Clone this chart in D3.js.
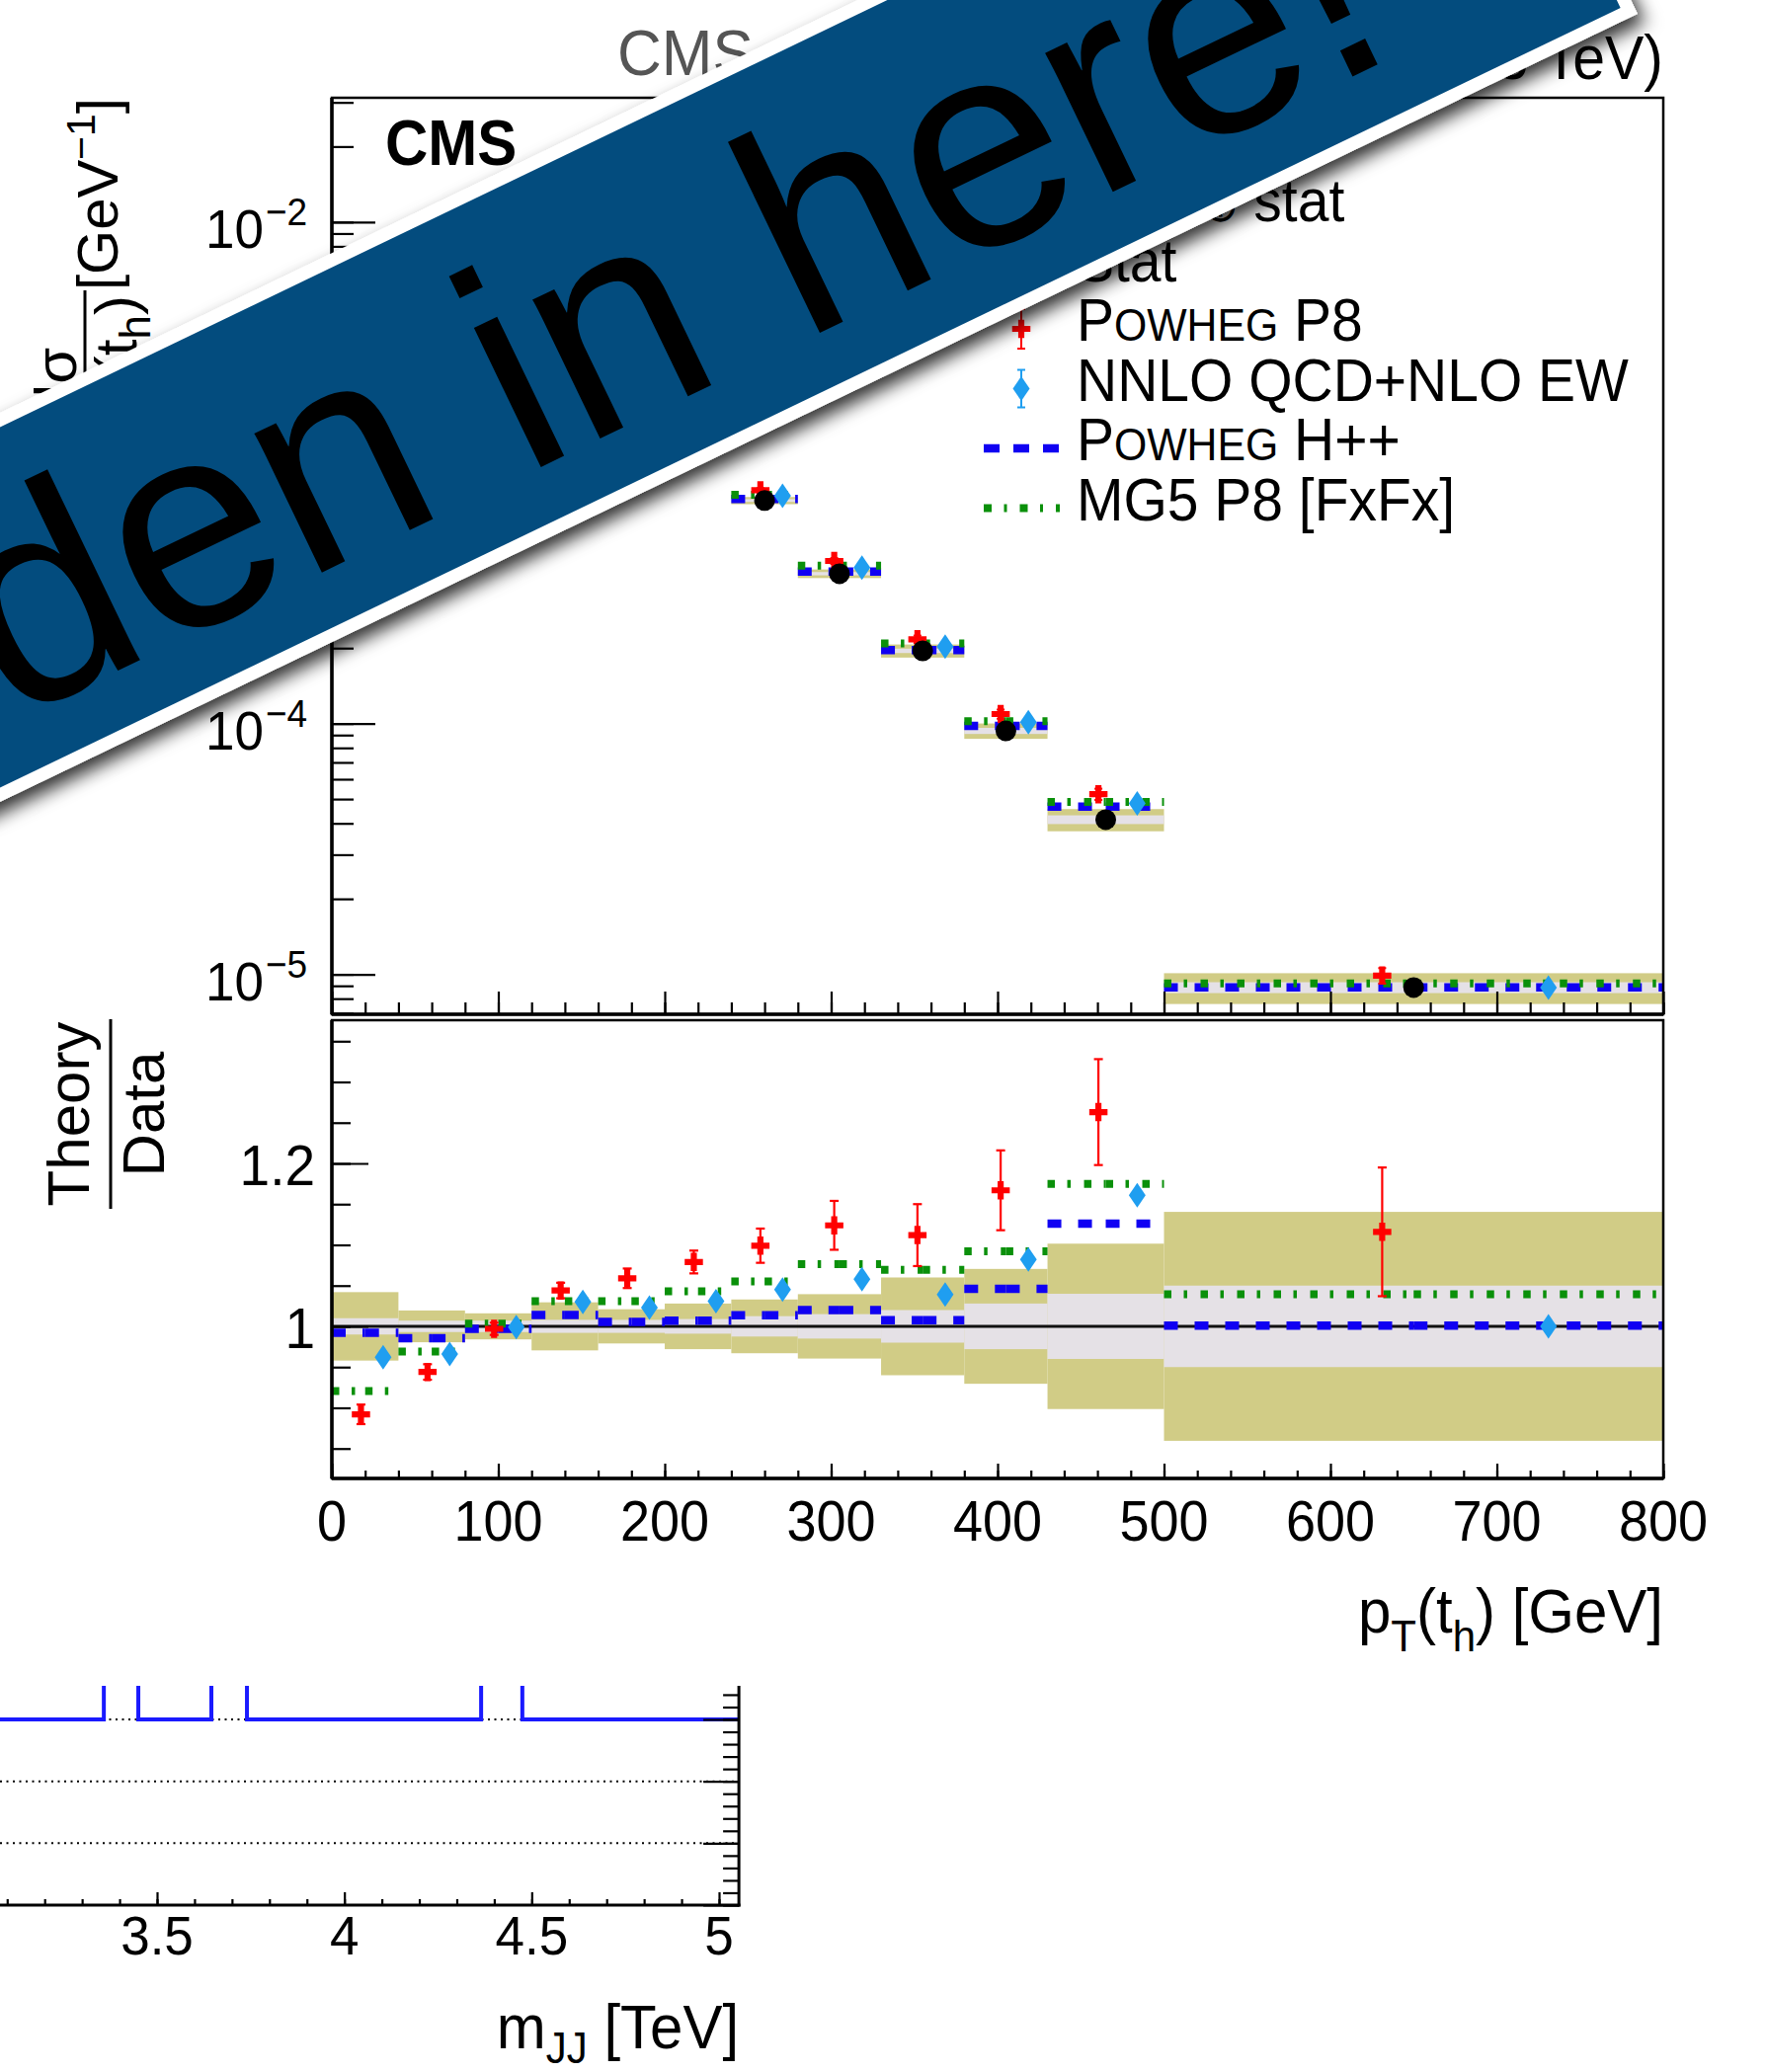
<!DOCTYPE html>
<html>
<head>
<meta charset="utf-8">
<script src="https://cdn.jsdelivr.net/npm/d3@7"></script>
<style>
html,body{margin:0;padding:0;background:#ffffff;overflow:hidden;}
svg{display:block;}
</style>
</head>
<body>
<svg id="chart" width="1788" height="2098" font-family="'Liberation Sans', Arial, Helvetica, sans-serif"></svg>
<script>
// ================= DATA =================
const ptBinEdges = [0, 40, 80, 120, 160, 200, 240, 280, 330, 380, 430, 500, 800];
const dataXsec = [3.8e-3, 6.5e-3, 5.5e-3, 3.7e-3, 2.3e-3, 1.35e-3, 7.75e-4, 3.96e-4, 1.95e-4, 9.35e-5, 4.14e-5, 8.86e-6];
const totalUnc = [0.042, 0.0195, 0.016, 0.0295, 0.021, 0.028, 0.033, 0.0395, 0.060, 0.0705, 0.1015, 0.1405];
const statUnc = [0.010, 0.007, 0.007, 0.008, 0.008, 0.009, 0.0125, 0.015, 0.020, 0.028, 0.040, 0.050];
const ratioPowhegP8 = [0.892, 0.944, 0.997, 1.044, 1.059, 1.079, 1.099, 1.124, 1.112, 1.167, 1.263, 1.116];
const errPowhegP8 = [0.012, 0.0095, 0.0075, 0.0095, 0.012, 0.014, 0.021, 0.030, 0.038, 0.049, 0.065, 0.079];
const ratioNNLO = [0.962, 0.966, 0.999, 1.030, 1.023, 1.031, 1.045, 1.058, 1.039, 1.082, 1.161, 1.000];
const ratioPowhegHpp = [0.992, 0.9855, 0.997, 1.014, 1.0055, 1.007, 1.0137, 1.020, 1.0077, 1.046, 1.126, 1.001];
const ratioMG5 = [0.9205, 0.969, 1.0034, 1.031, 1.031, 1.043, 1.055, 1.0764, 1.0695, 1.092, 1.175, 1.0395];

const xTickValues = [0, 100, 200, 300, 400, 500, 600, 700, 800];
const xTickLabels = ["0", "100", "200", "300", "400", "500", "600", "700", "800"];
const yDecadeExponents = [-5, -4, -3, -2];
const ratioTickValues = [1, 1.2];
const ratioTickLabels = ["1", "1.2"];
const legendLabels = ["Data", "Syst \u2295 stat", "Stat", "POWHEG P8", "NNLO QCD+NLO EW", "POWHEG H++", "MG5 P8 [FxFx]"];

// background chart (mostly covered)
const mjjBinEdges = [3.0, 3.358, 3.45, 3.645, 3.74, 4.365, 4.475, 5.06];
const mjjBinValues = [1, 3, 1, 3, 1, 3, 1];
const mjjTickValues = [3.5, 4, 4.5, 5];
const mjjTickLabels = ["3.5", "4", "4.5", "5"];
const mjjRefLevels = [1, 0, -1];

const bannerText = "Hidden in here!";

// ================= SETUP =================
const W = 1788, H = 2098;
const svg = d3.select("#chart");
const FONT = "'Liberation Sans', Arial, Helvetica, sans-serif";
const C = {
  beige: "#d1cc86", lilac: "#e5e1e6", blue: "#1000f2", green: "#0a900a",
  red: "#ff0000", azure: "#1f9ef0", banner: "#034c7e"
};

function htext(parent, x, y, size, anchor, sy) {
  return parent.append("text")
    .attr("transform", `translate(${x},${y}) scale(1,${sy === undefined ? 1.06 : sy})`)
    .attr("font-size", size).attr("text-anchor", anchor || "start");
}
function cleanAxis(g) {
  g.select(".domain").remove();
  g.attr("font-family", FONT);
  g.selectAll("line").attr("stroke", "#000").attr("stroke-width", 2.2);
}

const defs = svg.append("defs");
const sh = defs.append("filter").attr("id", "sh")
  .attr("x", "-10%").attr("y", "-40%").attr("width", "120%").attr("height", "180%");
sh.append("feDropShadow").attr("dx", 3).attr("dy", 11).attr("stdDeviation", 9)
  .attr("flood-color", "#000").attr("flood-opacity", 0.8);

// ================= BACKGROUND CHART (m_JJ) =================
const bg = svg.append("g");
const xBg = d3.scaleLinear().domain([3.5, 5]).range([159, 728]);
const yBg = d3.scaleLinear().domain([-2, 1]).range([1929, 1741]);
const bgRight = xBg(5.053), bgBottom = yBg(-2);
defs.append("clipPath").attr("id", "clipBg").append("rect")
  .attr("x", -50).attr("y", 1500).attr("width", bgRight + 50).attr("height", bgBottom - 1500);
const bgC = bg.append("g").attr("clip-path", "url(#clipBg)");
bgC.selectAll("line.ref").data(mjjRefLevels).join("line")
  .attr("x1", 0).attr("x2", bgRight).attr("y1", d => yBg(d)).attr("y2", d => yBg(d))
  .attr("stroke", "#000").attr("stroke-width", 2).attr("stroke-dasharray", "2 4.5");
const stepPts = mjjBinValues.map((v, i) => [mjjBinEdges[i], v]);
stepPts.push([mjjBinEdges[mjjBinEdges.length - 1], mjjBinValues[mjjBinValues.length - 1]]);
bgC.append("path").attr("d", d3.line().x(d => xBg(d[0])).y(d => yBg(d[1])).curve(d3.curveStepAfter)(stepPts))
  .attr("fill", "none").attr("stroke", "#1a1aff").attr("stroke-width", 4);
bg.append("g").attr("transform", `translate(${bgRight},0)`)
  .call(d3.axisLeft(yBg).tickValues(d3.range(-10, 8).map(v => v / 5)).tickSize(16).tickFormat(""))
  .call(cleanAxis);
bg.append("g").attr("transform", `translate(${bgRight},0)`)
  .call(d3.axisLeft(yBg).tickValues([-2, -1, 0, 1]).tickSize(36).tickFormat(""))
  .call(cleanAxis);
bg.append("g").attr("transform", `translate(0,${bgBottom})`)
  .call(d3.axisBottom(xBg).tickValues(d3.range(31, 51).map(v => v / 10)).tickSize(-6).tickFormat(""))
  .call(cleanAxis);
bg.append("g").attr("transform", `translate(0,${bgBottom})`)
  .call(d3.axisBottom(xBg).tickValues(mjjTickValues).tickSize(-13).tickFormat(""))
  .call(cleanAxis);
bg.append("line").attr("x1", bgRight).attr("x2", bgRight).attr("y1", 1500).attr("y2", bgBottom + 1.5)
  .attr("stroke", "#000").attr("stroke-width", 3);
bg.append("line").attr("x1", -10).attr("x2", bgRight + 1.5).attr("y1", bgBottom).attr("y2", bgBottom)
  .attr("stroke", "#000").attr("stroke-width", 3);
mjjTickValues.forEach((v, i) => {
  htext(bg, xBg(v), bgBottom + 50, 53, "middle").text(mjjTickLabels[i]);
});
{
  const t = htext(bg, bgRight, 2074, 60, "end");
  t.append("tspan").text("m");
  t.append("tspan").attr("font-size", 42).attr("dy", 14).text("JJ");
  t.append("tspan").attr("dy", -14).text(" [TeV]");
}

// ================= FRONT CANVAS =================
const fg = svg.append("g");
fg.append("rect").attr("x", 3).attr("y", 0).attr("width", W - 3).attr("height", 1707).attr("fill", "#fff");

const X0 = 336, X1 = 1684, UT = 99, UB = 1027, LT = 1033, LB = 1497;
const x = d3.scaleLinear().domain([0, 800]).range([X0, X1]);
const yUp = d3.scaleLog().domain([6.93e-6, 3.13e-2]).range([UB, UT]);
const yLo = d3.scaleLinear().domain([0.8133, 1.3758]).range([LB, LT]);

defs.append("clipPath").attr("id", "clipUp").append("rect")
  .attr("x", X0).attr("y", UT).attr("width", X1 - X0).attr("height", UB - UT);
defs.append("clipPath").attr("id", "clipLo").append("rect")
  .attr("x", X0).attr("y", LT).attr("width", X1 - X0).attr("height", LB - LT);

const bins = ptBinEdges.slice(0, -1).map((lo, i) => {
  const hi = ptBinEdges[i + 1];
  return { i, lo, hi, c: (lo + hi) / 2, w: hi - lo };
});
// marker positions (pixels) through the x scale
const redX = b => x(b.c - 0.063 * b.w);
const azX = b => x(b.c + 0.27 * b.w);

const crossPath = d3.symbol().type(d3.symbolCross).size(190)();
const diamondPath = "M0,-12.5L8.5,0L0,12.5L-8.5,0Z";

function theoryLines(g, ratios, yfn, color, width, dash) {
  const segs = [];
  bins.forEach(b => {
    segs.push({ a: b.lo, b: b.c, v: ratios[b.i], i: b.i });
    segs.push({ a: b.c, b: b.hi, v: ratios[b.i], i: b.i });
  });
  g.append("g").selectAll("line").data(segs).join("line")
    .attr("x1", d => x(d.a)).attr("x2", d => x(d.b))
    .attr("y1", d => yfn(d)).attr("y2", d => yfn(d))
    .attr("stroke", color).attr("stroke-width", width).attr("stroke-dasharray", dash);
}
function errBars(g, xs, ylo, yhi, color, capW, width) {
  const grp = g.append("g").attr("stroke", color).attr("stroke-width", width);
  bins.forEach(b => {
    const xx = xs(b), a = ylo(b), c = yhi(b);
    grp.append("line").attr("x1", xx).attr("x2", xx).attr("y1", a).attr("y2", c);
    grp.append("line").attr("x1", xx - capW / 2).attr("x2", xx + capW / 2).attr("y1", a).attr("y2", a);
    grp.append("line").attr("x1", xx - capW / 2).attr("x2", xx + capW / 2).attr("y1", c).attr("y2", c);
  });
}

// ---------- Upper pad ----------
const up = fg.append("g");
const upC = up.append("g").attr("clip-path", "url(#clipUp)");
upC.append("g").selectAll("rect").data(bins).join("rect")
  .attr("x", b => x(b.lo)).attr("width", b => x(b.hi) - x(b.lo))
  .attr("y", b => yUp(dataXsec[b.i] * (1 + totalUnc[b.i])))
  .attr("height", b => yUp(dataXsec[b.i] * (1 - totalUnc[b.i])) - yUp(dataXsec[b.i] * (1 + totalUnc[b.i])))
  .attr("fill", C.beige);
upC.append("g").selectAll("rect").data(bins).join("rect")
  .attr("x", b => x(b.lo)).attr("width", b => x(b.hi) - x(b.lo))
  .attr("y", b => yUp(dataXsec[b.i] * (1 + statUnc[b.i])))
  .attr("height", b => yUp(dataXsec[b.i] * (1 - statUnc[b.i])) - yUp(dataXsec[b.i] * (1 + statUnc[b.i])))
  .attr("fill", C.lilac);
theoryLines(upC, ratioPowhegHpp, d => yUp(dataXsec[d.i] * d.v), C.blue, 8.5, "14 17");
theoryLines(upC, ratioMG5, d => yUp(dataXsec[d.i] * d.v), C.green, 8, "7.5 12.5 3.5 13.5");
errBars(upC, redX, b => yUp(dataXsec[b.i] * (ratioPowhegP8[b.i] - errPowhegP8[b.i])),
  b => yUp(dataXsec[b.i] * (ratioPowhegP8[b.i] + errPowhegP8[b.i])), C.red, 8, 2);
upC.append("g").selectAll("path").data(bins).join("path").attr("d", crossPath)
  .attr("transform", b => `translate(${redX(b)},${yUp(dataXsec[b.i] * ratioPowhegP8[b.i])})`).attr("fill", C.red);
upC.append("g").selectAll("path").data(bins).join("path").attr("d", diamondPath)
  .attr("transform", b => `translate(${azX(b)},${yUp(dataXsec[b.i] * ratioNNLO[b.i])})`).attr("fill", C.azure);
upC.append("g").selectAll("circle").data(bins).join("circle")
  .attr("cx", b => x(b.c)).attr("cy", b => yUp(dataXsec[b.i])).attr("r", 10.5).attr("fill", "#000");

// axes upper
const logTicks = yUp.ticks();
up.append("g").attr("transform", `translate(${X0},0)`)
  .call(d3.axisLeft(yUp).tickValues(logTicks).tickSize(-22).tickFormat("")).call(cleanAxis);
up.append("g").attr("transform", `translate(${X0},0)`)
  .call(d3.axisLeft(yUp).tickValues(yDecadeExponents.map(e => Math.pow(10, e))).tickSize(-44).tickFormat("")).call(cleanAxis);
up.append("g").attr("transform", `translate(0,${UB})`)
  .call(d3.axisBottom(x).tickValues(d3.range(0, 801, 20)).tickSize(-12).tickFormat("")).call(cleanAxis);
up.append("g").attr("transform", `translate(0,${UB})`)
  .call(d3.axisBottom(x).tickValues(xTickValues).tickSize(-23).tickFormat("")).call(cleanAxis);
up.append("rect").attr("x", X0).attr("y", UT).attr("width", X1 - X0).attr("height", UB - UT)
  .attr("fill", "none").attr("stroke", "#000").attr("stroke-width", 2.5);
up.append("line").attr("x1", X0).attr("x2", X1).attr("y1", UB).attr("y2", UB).attr("stroke", "#000").attr("stroke-width", 3.5);
up.append("line").attr("x1", X0).attr("x2", X0).attr("y1", UT).attr("y2", UB).attr("stroke", "#000").attr("stroke-width", 3.5);
yDecadeExponents.forEach(e => {
  const yy = yUp(Math.pow(10, e));
  htext(up, 267, yy + 26, 53, "end").text("10");
  htext(up, 269, yy + 3, 37, "start").text("\u2212" + Math.abs(e));
});

// y title upper (rotated)
{
  const g = up.append("g").attr("transform", "rotate(-90)");
  const t1 = g.append("text").attr("x", -99).attr("y", 119).attr("font-size", 58).attr("text-anchor", "end");
  t1.append("tspan").text("[GeV");
  t1.append("tspan").attr("font-size", 41).attr("dy", -23).text("\u22121");
  t1.append("tspan").attr("dy", 23).text("]");
  const den = g.append("text").attr("x", -299).attr("y", 138).attr("font-size", 60).attr("text-anchor", "end");
  den.append("tspan").text("dp");
  den.append("tspan").attr("font-size", 44).attr("dy", 14).text("T");
  den.append("tspan").attr("dy", -14).text("(t");
  den.append("tspan").attr("font-size", 44).attr("dy", 14).text("h");
  den.append("tspan").attr("dy", -14).text(")");
  const denW = 176;
  g.append("line").attr("x1", -294).attr("x2", -299 - denW - 5).attr("y1", 86).attr("y2", 86)
    .attr("stroke", "#000").attr("stroke-width", 3);
  g.append("text").attr("x", -299 - denW / 2).attr("y", 77).attr("font-size", 60).attr("text-anchor", "middle").text("d\u03c3");
  const c2 = -299 - denW - 40;
  g.append("line").attr("x1", c2 + 20).attr("x2", c2 - 20).attr("y1", 86).attr("y2", 86)
    .attr("stroke", "#000").attr("stroke-width", 3);
  g.append("text").attr("x", c2).attr("y", 77).attr("font-size", 60).attr("text-anchor", "middle").text("1");
  g.append("text").attr("x", c2).attr("y", 134).attr("font-size", 60).attr("text-anchor", "middle").text("\u03c3");
}

// texts upper
htext(up, 390, 167, 60, "start", 1.08).attr("font-weight", "bold").text("CMS");
htext(up, 625, 76, 62, "start", 1.06).attr("fill", "#555").text("CMS");
{
  const t = htext(up, 1684, 80, 59, "end", 1.08);
  t.append("tspan").text("2.3 fb");
  t.append("tspan").attr("font-size", 41).attr("dy", -22).text("\u22121");
  t.append("tspan").attr("dy", 22).text(" (13 TeV)");
}

// legend
{
  const lg = up.append("g");
  const mx = 1034, tx = 1090, base0 = 163.5, step = 60.5, fs = 57, sc = 0.75;
  legendLabels.forEach((lab, k) => {
    const by = base0 + step * k, my = by - 12;
    if (k === 0) {
      lg.append("line").attr("x1", mx).attr("x2", mx).attr("y1", my - 20).attr("y2", my + 20).attr("stroke", "#000").attr("stroke-width", 2);
      lg.append("circle").attr("cx", mx).attr("cy", my).attr("r", 10.5).attr("fill", "#000");
    } else if (k === 1 || k === 2) {
      lg.append("rect").attr("x", mx - 32).attr("y", my - 20).attr("width", 64).attr("height", 40)
        .attr("fill", k === 1 ? C.beige : C.lilac);
    } else if (k === 3) {
      const gg = lg.append("g").attr("stroke", C.red).attr("stroke-width", 2);
      gg.append("line").attr("x1", mx).attr("x2", mx).attr("y1", my - 20).attr("y2", my + 20);
      gg.append("line").attr("x1", mx - 4).attr("x2", mx + 4).attr("y1", my - 20).attr("y2", my - 20);
      gg.append("line").attr("x1", mx - 4).attr("x2", mx + 4).attr("y1", my + 20).attr("y2", my + 20);
      lg.append("path").attr("d", crossPath).attr("transform", `translate(${mx},${my})`).attr("fill", C.red);
    } else if (k === 4) {
      const gg = lg.append("g").attr("stroke", C.azure).attr("stroke-width", 2);
      gg.append("line").attr("x1", mx).attr("x2", mx).attr("y1", my - 19).attr("y2", my + 19);
      gg.append("line").attr("x1", mx - 4).attr("x2", mx + 4).attr("y1", my - 19).attr("y2", my - 19);
      gg.append("line").attr("x1", mx - 4).attr("x2", mx + 4).attr("y1", my + 19).attr("y2", my + 19);
      lg.append("path").attr("d", diamondPath).attr("transform", `translate(${mx},${my})`).attr("fill", C.azure);
    } else if (k === 5) {
      lg.append("line").attr("x1", 996).attr("x2", 1073).attr("y1", my).attr("y2", my)
        .attr("stroke", C.blue).attr("stroke-width", 8.5).attr("stroke-dasharray", "16 14");
    } else if (k === 6) {
      lg.append("line").attr("x1", 996).attr("x2", 1073).attr("y1", my).attr("y2", my)
        .attr("stroke", C.green).attr("stroke-width", 8).attr("stroke-dasharray", "8 12.5 3 13");
    }
    const t = htext(lg, tx, by, fs, "start", 1.06);
    if (lab.startsWith("POWHEG")) {
      t.append("tspan").text("P");
      t.append("tspan").attr("font-size", fs * sc).text("OWHEG");
      t.append("tspan").text(lab.slice(6));
    } else if (lab.includes("\u2295")) {
      const parts = lab.split("\u2295");
      t.append("tspan").text(parts[0]);
      t.append("tspan").attr("font-size", 44).text("\u2295");
      t.append("tspan").text(parts[1]);
    } else {
      t.text(lab);
    }
  });
}

// ---------- Lower pad ----------
const lo = fg.append("g");
const loC = lo.append("g").attr("clip-path", "url(#clipLo)");
loC.append("g").selectAll("rect").data(bins).join("rect")
  .attr("x", b => x(b.lo)).attr("width", b => x(b.hi) - x(b.lo))
  .attr("y", b => yLo(1 + totalUnc[b.i])).attr("height", b => yLo(1 - totalUnc[b.i]) - yLo(1 + totalUnc[b.i]))
  .attr("fill", C.beige);
loC.append("g").selectAll("rect").data(bins).join("rect")
  .attr("x", b => x(b.lo)).attr("width", b => x(b.hi) - x(b.lo))
  .attr("y", b => yLo(1 + statUnc[b.i])).attr("height", b => yLo(1 - statUnc[b.i]) - yLo(1 + statUnc[b.i]))
  .attr("fill", C.lilac);
loC.append("line").attr("x1", X0).attr("x2", X1).attr("y1", yLo(1)).attr("y2", yLo(1))
  .attr("stroke", "#111").attr("stroke-width", 3);
theoryLines(loC, ratioPowhegHpp, d => yLo(d.v), C.blue, 8.5, "14 17");
theoryLines(loC, ratioMG5, d => yLo(d.v), C.green, 8, "7.5 12.5 3.5 13.5");
errBars(loC, redX, b => yLo(ratioPowhegP8[b.i] - errPowhegP8[b.i]), b => yLo(ratioPowhegP8[b.i] + errPowhegP8[b.i]), C.red, 9, 2.2);
loC.append("g").selectAll("path").data(bins).join("path").attr("d", crossPath)
  .attr("transform", b => `translate(${redX(b)},${yLo(ratioPowhegP8[b.i])})`).attr("fill", C.red);
loC.append("g").selectAll("path").data(bins).join("path").attr("d", diamondPath)
  .attr("transform", b => `translate(${azX(b)},${yLo(ratioNNLO[b.i])})`).attr("fill", C.azure);

lo.append("g").attr("transform", `translate(${X0},0)`)
  .call(d3.axisLeft(yLo).tickValues(d3.range(17, 28).map(v => v * 0.05)).tickSize(-19).tickFormat("")).call(cleanAxis);
lo.append("g").attr("transform", `translate(${X0},0)`)
  .call(d3.axisLeft(yLo).tickValues(ratioTickValues).tickSize(-37).tickFormat("")).call(cleanAxis);
lo.append("g").attr("transform", `translate(0,${LB})`)
  .call(d3.axisBottom(x).tickValues(d3.range(0, 801, 20)).tickSize(-8).tickFormat("")).call(cleanAxis);
lo.append("g").attr("transform", `translate(0,${LB})`)
  .call(d3.axisBottom(x).tickValues(xTickValues).tickSize(-15).tickFormat("")).call(cleanAxis);
lo.append("rect").attr("x", X0).attr("y", LT).attr("width", X1 - X0).attr("height", LB - LT)
  .attr("fill", "none").attr("stroke", "#000").attr("stroke-width", 2.5);
lo.append("line").attr("x1", X0).attr("x2", X1).attr("y1", LB).attr("y2", LB).attr("stroke", "#000").attr("stroke-width", 3.5);
lo.append("line").attr("x1", X0).attr("x2", X0).attr("y1", LT).attr("y2", LB).attr("stroke", "#000").attr("stroke-width", 3.5);
ratioTickValues.forEach((v, i) => {
  htext(lo, 319, yLo(v) + 22, 55, "end").text(ratioTickLabels[i]);
});
xTickValues.forEach((v, i) => {
  htext(lo, x(v), 1560, 54, "middle").text(xTickLabels[i]);
});
{
  const t = htext(lo, X1, 1653, 60, "end", 1.06);
  t.append("tspan").text("p");
  t.append("tspan").attr("font-size", 42).attr("dy", 18).text("T");
  t.append("tspan").attr("dy", -18).text("(t");
  t.append("tspan").attr("font-size", 42).attr("dy", 18).text("h");
  t.append("tspan").attr("dy", -18).text(") [GeV]");
}
{
  const g = lo.append("g").attr("transform", "translate(0,1128) rotate(-90)");
  g.append("text").attr("x", 0).attr("y", 90).attr("font-size", 60).attr("text-anchor", "middle").text("Theory");
  g.append("line").attr("x1", -96).attr("x2", 96).attr("y1", 112).attr("y2", 112).attr("stroke", "#000").attr("stroke-width", 3);
  g.append("text").attr("x", 0).attr("y", 166).attr("font-size", 60).attr("text-anchor", "middle").text("Data");
}

// ================= BANNER =================
{
  const bh = 355, border = 13, bl = 3400;
  const g = svg.append("g").attr("transform", "translate(1658,14) rotate(-25.7)");
  g.append("rect").attr("x", -bl).attr("y", -bh).attr("width", bl).attr("height", bh)
    .attr("fill", "#ffffff").attr("filter", "url(#sh)");
  g.append("rect").attr("x", -bl).attr("y", -bh + border).attr("width", bl - border).attr("height", bh - 2 * border)
    .attr("fill", C.banner);
  g.append("text").attr("x", -232).attr("y", -68).attr("text-anchor", "end")
    .attr("font-size", 296).attr("fill", "#000").text(bannerText);
}
</script>
</body>
</html>
